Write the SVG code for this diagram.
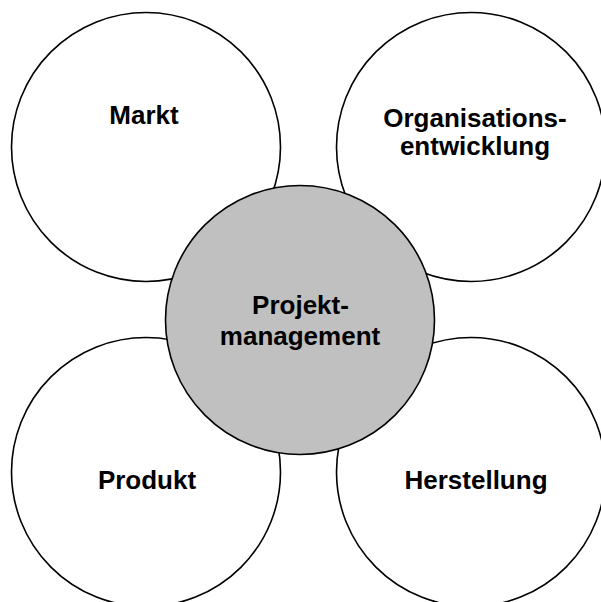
<svg xmlns="http://www.w3.org/2000/svg" width="601" height="602" viewBox="0 0 601 602">
<style>
.c{fill:#ffffff;stroke:#000000;stroke-width:1.6}
.m{fill:#c0c0c0;stroke:#000000;stroke-width:1.6}
.t{font-family:"Liberation Sans",Arial,sans-serif;font-weight:bold;font-size:26px;fill:#000000;text-anchor:middle}
</style>
<rect width="601" height="602" fill="#ffffff"/>
<g id="connectors"></g>
<g id="markt">
<circle class="c" cx="146" cy="147" r="134.5"/>
<text class="t" x="144" y="124">Markt</text>
</g>
<g id="organisationsentwicklung">
<circle class="c" cx="471" cy="147" r="134.5"/>
<text class="t" x="475" y="127">Organisations-</text>
<text class="t" x="475" y="155">entwicklung</text>
</g>
<g id="produkt">
<circle class="c" cx="146" cy="472" r="134.5"/>
<text class="t" x="147" y="488.5">Produkt</text>
</g>
<g id="herstellung">
<circle class="c" cx="471" cy="472" r="134.5"/>
<text class="t" x="476" y="488.5">Herstellung</text>
</g>
<g id="projektmanagement">
<circle class="m" cx="300" cy="320" r="134.5"/>
<text class="t" x="300.5" y="313.5">Projekt-</text>
<text class="t" x="300" y="344.5">management</text>
</g>
</svg>
